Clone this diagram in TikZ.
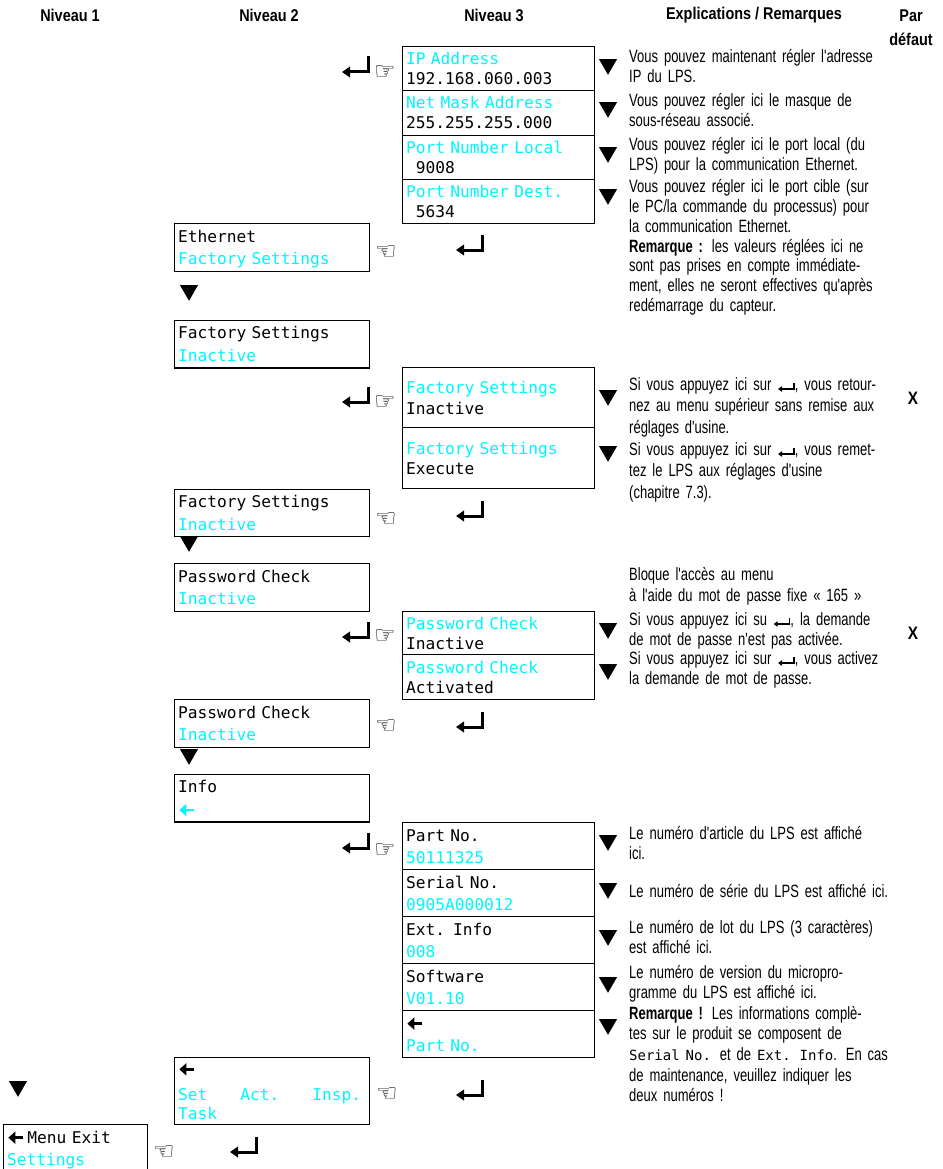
\documentclass[tikz,border=0pt]{standalone}
\usepackage{fontspec}
\setmainfont{Liberation Sans}
\newfontfamily\headfont[FakeStretch=0.85]{Liberation Sans}
\newfontfamily\explfont[FakeStretch=0.73,WordSpace=0.7]{Liberation Sans}
\newfontfamily\lcdfont{DejaVu Sans Mono}
\newfontfamily\symfont{DejaVu Sans}
\usetikzlibrary{positioning,shapes.geometric,arrows.meta}
\definecolor{lcdcyan}{RGB}{0,245,255}
\newcommand\lcdhi[1]{\textcolor{lcdcyan}{#1}}
\newcommand\retsym{\tikz[baseline=0pt,x=1pt,y=1pt]\draw[line width=1.5pt,-{Triangle[length=4pt,width=5.5pt]}] (16,7) -- (16,1) -- (0,1);}
\newcommand\backsym{\tikz[baseline=-5.5pt,x=1pt,y=1pt]\draw[line width=2.6pt,-{Triangle[length=7pt,width=12pt]}] (15,0) -- (0,0);}
\newcommand\lcdword[1]{{\lcdfont\fontsize{14}{20}\selectfont #1}}
\tikzset{
  head/.style={font=\headfont\bfseries\fontsize{17}{24}\selectfont, align=center, inner sep=0pt},
  expl/.style={anchor=base west, text width=290pt, align=left, inner sep=0pt, font=\explfont\fontsize{17.8}{20}\selectfont},
  lcd/.style={draw, line width=1.1pt, anchor=north west, inner xsep=3.5pt, inner ysep=0pt, align=left, text height=12pt},
  menu box/.style={lcd, minimum width=195pt, text width=188pt, minimum height=47.4pt, font=\lcdfont\fontsize{16.2}{22.7}\selectfont, text depth=22.7pt},
  sub box/.style 2 args={lcd, minimum width=192pt, text width=185pt, minimum height=#1, font=\lcdfont\fontsize{16.2}{#2}\selectfont, text depth=#2},
  down/.style={regular polygon, regular polygon sides=3, shape border rotate=180, fill, inner sep=0pt, minimum size=20.8pt},
  hand/.style={font=\symfont\fontsize{24}{24}\selectfont, inner sep=0pt},
  dflt/.style={font=\headfont\bfseries\fontsize{18}{18}\selectfont, inner sep=0pt},
  enter/.pic={\draw[line width=3pt, -{Triangle[length=8pt,width=10.5pt]}] (0,-15.5) -- (0,0) -- (-26,0);},
}

\begin{document}
\begin{tikzpicture}[x=1pt,y=-1pt]
\useasboundingbox (0,0) rectangle (942,1169);

% column heads
\node[head] (h1) at (70,15) {Niveau 1};
\node[head] (h2) at (269,15) {Niveau 2};
\node[head] (h3) at (494,15) {Niveau 3};
\node[head] (h4) at (754,15) {Explications / Remarques};
\node[head] (h5) at (911,28) {Par\\défaut};

% level 2 / level 1 displays
\node[menu box] (eth) at (174,223.3) {Ethernet\\\lcdhi{Factory Settings}};
\node[menu box] (fac1) at (174,320) {Factory Settings\\\lcdhi{Inactive}};
\node[menu box] (fac2) at (174,488.5) {Factory Settings\\\lcdhi{Inactive}};
\node[menu box] (pw1) at (174,563.3) {Password Check\\\lcdhi{Inactive}};
\node[menu box] (pw2) at (174,699.3) {Password Check\\\lcdhi{Inactive}};
\node[menu box] (info) at (174,774) {Info\\\lcdhi{\backsym}};
\node[menu box, minimum height=67pt, text depth=45pt, font=\lcdfont\fontsize{16.2}{19.5}\selectfont] (task) at (174,1057.3)
  {\backsym\\[6pt]\lcdhi{Set\hspace*{33pt}Act.\hspace*{33pt}Insp.}\\\lcdhi{Task}};
\node[menu box, minimum width=144pt, text width=137pt] (menu) at (3,1124.3) {\backsym\,Menu Exit\\\lcdhi{Settings}};

% level 3 displays
\node[sub box={44.3pt}{20pt}] (ip) at (402,46) {\lcdhi{IP Address}\\192.168.060.003};
\node[sub box={44.3pt}{20pt}] (mask) at (402,90.3) {\lcdhi{Net Mask Address}\\255.255.255.000};
\node[sub box={44.3pt}{20pt}] (portl) at (402,134.6) {\lcdhi{Port Number Local}\\\phantom{0}9008};
\node[sub box={44.3pt}{20pt}] (portd) at (402,178.9) {\lcdhi{Port Number Dest.}\\\phantom{0}5634};
\node[sub box={60pt}{20.6pt}] (facin) at (402,367.3) {\lcdhi{Factory Settings}\\Inactive};
\node[sub box={61pt}{20.6pt}] (facex) at (402,427.3) {\lcdhi{Factory Settings}\\Execute};
\node[sub box={43.6pt}{20pt}] (pwin) at (402,610.7) {\lcdhi{Password Check}\\Inactive};
\node[sub box={45pt}{20pt}] (pwact) at (402,654.3) {\lcdhi{Password Check}\\Activated};
\node[sub box={47pt}{22.5pt}] (partno) at (402,822.3) {Part No.\\\lcdhi{50111325}};
\node[sub box={47pt}{22.5pt}] (serial) at (402,869.3) {Serial No.\\\lcdhi{0905A000012}};
\node[sub box={47pt}{22.5pt}] (extinfo) at (402,916.3) {Ext. Info\\\lcdhi{008}};
\node[sub box={47pt}{22.5pt}] (softw) at (402,963.3) {Software\\\lcdhi{V01.10}};
\node[sub box={47pt}{22.5pt}] (back) at (402,1010.3) {\backsym\\\lcdhi{Part No.}};

% down keys
\node[down] (d1) at (18,1086.4) {};
\node[down] (d2) at (189,290.4) {};
\node[down] (d3) at (189,541.4) {};
\node[down] (d4) at (189,754.4) {};
\node[down] (t1) at (608,64.4) {};
\node[down] (t2) at (608,107.4) {};
\node[down] (t3) at (608,152.4) {};
\node[down] (t4) at (608,194.4) {};
\node[down] (t5) at (608,395.4) {};
\node[down] (t6) at (608,451.4) {};
\node[down] (t7) at (608,628.4) {};
\node[down] (t8) at (608,669.4) {};
\node[down] (t9) at (608,840.4) {};
\node[down] (t10) at (608,888.4) {};
\node[down] (t11) at (608,935.4) {};
\node[down] (t12) at (608,982.4) {};
\node[down] (t13) at (608,1024.4) {};

% hands
\node[hand] (in1) at (385,73) {☞};
\node[hand] (in2) at (385,403) {☞};
\node[hand] (in3) at (385,637) {☞};
\node[hand] (in4) at (385,851) {☞};
\node[hand] (out1) at (386,253) {☜};
\node[hand] (out2) at (386,520) {☜};
\node[hand] (out3) at (386,727) {☜};
\node[hand] (out4) at (387,1095) {☜};
\node[hand] (out5) at (164,1153) {☜};

% enter keys
\pic at (368,72) {enter};
\pic at (368,402) {enter};
\pic at (368,637) {enter};
\pic at (368,848) {enter};
\pic at (482,250) {enter};
\pic at (482,516) {enter};
\pic at (482,727) {enter};
\pic at (482,1095) {enter};
\pic at (256,1152) {enter};

% explanations
\node[expl] (exip) at (629,63) {Vous pouvez maintenant régler l'adresse\\IP du LPS.};
\node[expl] (exmask) at (629,107) {Vous pouvez régler ici le masque de\\sous-réseau associé.};
\node[expl] (exportl) at (629,151) {Vous pouvez régler ici le port local (du\\LPS) pour la communication Ethernet.};
\node[expl, font=\explfont\fontsize{17.8}{19.7}\selectfont] (exportd) at (629,193) {Vous pouvez régler ici le port cible (sur\\le PC/la commande du processus) pour\\la communication Ethernet.\\\textbf{Remarque :} les valeurs réglées ici ne\\sont pas prises en compte immédiate-\\ment, elles ne seront effectives qu'après\\redémarrage du capteur.};
\node[expl, font=\explfont\fontsize{17.8}{21.5}\selectfont] (exfacin) at (629,390) {Si vous appuyez ici sur \retsym, vous retour-\\nez au menu supérieur sans remise aux\\réglages d'usine.};
\node[expl, font=\explfont\fontsize{17.8}{21.5}\selectfont] (exfacex) at (629,455) {Si vous appuyez ici sur \retsym, vous remet-\\tez le LPS aux réglages d'usine\\(chapitre 7.3).};
\node[expl, font=\explfont\fontsize{17.8}{21.5}\selectfont] (exlock) at (629,580) {Bloque l'accès au menu\\à l'aide du mot de passe fixe « 165 »};
\node[expl] (expwin) at (629,625) {Si vous appuyez ici su \retsym, la demande\\de mot de passe n'est pas activée.};
\node[expl] (expwact) at (629,664) {Si vous appuyez ici sur \retsym, vous activez\\la demande de mot de passe.};
\node[expl] (expart) at (629,839) {Le numéro d'article du LPS est affiché\\ici.};
\node[expl] (exserial) at (629,897) {Le numéro de série du LPS est affiché ici.};
\node[expl] (exext) at (629,933) {Le numéro de lot du LPS (3 caractères)\\est affiché ici.};
\node[expl] (exsoft) at (629,978) {Le numéro de version du micropro-\\gramme du LPS est affiché ici.};
\node[expl, font=\explfont\fontsize{17.8}{20.7}\selectfont] (exrem) at (629,1019) {\textbf{Remarque !} Les informations complè-\\tes sur le produit se composent de\\\lcdword{Serial No.} et de \lcdword{Ext. Info}. En cas\\de maintenance, veuillez indiquer les\\deux numéros !};

% defaults
\node[dflt] (xfac) at (913,398) {X};
\node[dflt] (xpw) at (913,633) {X};
\end{tikzpicture}
\end{document}
